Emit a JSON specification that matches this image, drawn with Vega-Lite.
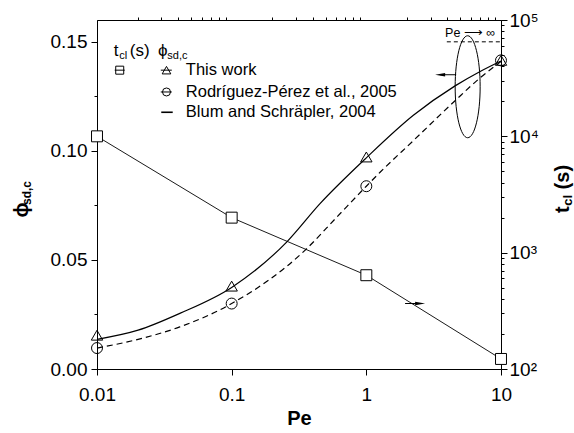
{
  "$schema": "https://vega.github.io/schema/vega-lite/v6.json",
  "width": 404,
  "height": 349,
  "autosize": {"type": "none"},
  "padding": {"left": 97, "top": 20, "right": 73, "bottom": 64},
  "background": "white",
  "config": {
    "font": "Liberation Sans",
    "view": {"stroke": "black", "strokeWidth": 1},
    "axis": {
      "domainColor": "black", "domainWidth": 1, "tickColor": "black", "tickWidth": 1,
      "labelColor": "black", "titleColor": "black", "labelFontSize": 19,
      "labelFont": "Liberation Sans", "grid": false, "labelFlush": false,
      "labelOverlap": false, "labelBound": false
    }
  },
  "datasets": {
    "solid": [
      {"Pe": 0.01, "phi": 0.0136}, {"Pe": 0.0202, "phi": 0.0178}, {"Pe": 0.0412, "phi": 0.0255},
      {"Pe": 0.1, "phi": 0.0374}, {"Pe": 0.256, "phi": 0.0582}, {"Pe": 0.453, "phi": 0.0758},
      {"Pe": 1, "phi": 0.0968}, {"Pe": 2.235, "phi": 0.1163},
      {"Pe": 4.56, "phi": 0.1298}, {"Pe": 7.0, "phi": 0.1364}, {"Pe": 10, "phi": 0.1412}
    ],
    "dashed": [
      {"Pe": 0.01, "phi": 0.0096}, {"Pe": 0.0202, "phi": 0.0136}, {"Pe": 0.0412, "phi": 0.0193},
      {"Pe": 0.1, "phi": 0.03}, {"Pe": 0.35, "phi": 0.0544}, {"Pe": 0.603, "phi": 0.0696},
      {"Pe": 1, "phi": 0.0838}, {"Pe": 1.265, "phi": 0.0902}, {"Pe": 2.235, "phi": 0.1047},
      {"Pe": 4.56, "phi": 0.123}, {"Pe": 7.0, "phi": 0.1335}, {"Pe": 10, "phi": 0.141}
    ],
    "thiswork": [
      {"Pe": 0.01, "phi": 0.0155}, {"Pe": 0.1, "phi": 0.038}, {"Pe": 1, "phi": 0.0972}, {"Pe": 10, "phi": 0.1415}
    ],
    "rodriguez": [
      {"Pe": 0.01, "phi": 0.0096}, {"Pe": 0.1, "phi": 0.03}, {"Pe": 1, "phi": 0.0838}, {"Pe": 10, "phi": 0.1415}
    ],
    "tcl": [
      {"Pe": 0.01, "t": 10000}, {"Pe": 0.1, "t": 2000}, {"Pe": 1, "t": 640}, {"Pe": 10, "t": 122}
    ],
    "inf_line": [{"Pe1": 3.96, "Pe2": 10, "phi": 0.15}],
    "inf_text": [{"Pe": 3.846, "phi": 0.1539, "label": "Pe ⟶ ∞"}],
    "ellipse": [{"Pe": 5.655, "phi": 0.1294}],
    "left_arrow_shaft": [{"Pe1": 3.53, "Pe2": 4.645, "phi": 0.1349}],
    "left_arrow_head": [{"Pe": 3.53, "phi": 0.1349}],
    "right_arrow_shaft": [{"Pe1": 1.94, "Pe2": 2.508, "t": 365.6}],
    "right_arrow_head": [{"Pe": 2.508, "t": 365.6}],
    "legend_lines": [
      {"Pe1": 0.01354, "Pe2": 0.01607, "phi": 0.137},
      {"Pe1": 0.02976, "Pe2": 0.03593, "phi": 0.137},
      {"Pe1": 0.02976, "Pe2": 0.03593, "phi": 0.127}
    ],
    "legend_blum": [{"Pe1": 0.0300, "Pe2": 0.0365, "phi": 0.1177}],
    "legend_square": [{"Pe": 0.01475, "phi": 0.137}],
    "legend_triangle": [{"Pe": 0.03281, "phi": 0.137}],
    "legend_circle": [{"Pe": 0.03281, "phi": 0.127}],
    "legend_text": [
      {"Pe": 0.04565, "phi": 0.137, "label": "This work"},
      {"Pe": 0.04565, "phi": 0.127, "label": "Rodríguez-Pérez et al., 2005"},
      {"Pe": 0.04565, "phi": 0.1177, "label": "Blum and Schräpler, 2004"}
    ],
    "header_main": [
      {"Pe": 0.0133, "phi": 0.14358, "label": "t"},
      {"Pe": 0.0175, "phi": 0.14358, "label": "(s)"},
      {"Pe": 0.02841, "phi": 0.14358, "label": "ϕ"}
    ],
    "header_sub": [
      {"Pe": 0.01462, "phi": 0.1422, "label": "cl"},
      {"Pe": 0.0333, "phi": 0.1422, "label": "sd,c"}
    ],
    "ytitle_main": [{"Pe": 0.003079, "phi": 0.0695, "label": "ϕ"}],
    "ytitle_sub": [{"Pe": 0.003214, "phi": 0.0752, "label": "sd,c"}],
    "rtitle_main": [
      {"Pe": 32.2, "t": 2193, "label": "t"},
      {"Pe": 32.2, "t": 3499, "label": "(s)"}
    ],
    "rtitle_sub": [{"Pe": 33.6, "t": 2529, "label": "cl"}]
  },
  "layer": [
    {
      "resolve": {"axis": {"x": "independent", "y": "independent"}},
      "layer": [
        {
          "data": {"name": "solid"},
          "mark": {"type": "line", "interpolate": "monotone", "color": "black", "strokeWidth": 1.2},
          "encoding": {
            "x": {
              "field": "Pe", "type": "quantitative",
              "scale": {"type": "log", "domain": [0.01, 10], "nice": false},
              "axis": {
                "title": "Pe", "titleFontSize": 20, "titleFontWeight": "bold", "titlePadding": 4,
                "labelPadding": 10, "tickSize": 6, "values": [0.01, 0.1, 1, 10], "format": "~g"
              }
            },
            "y": {
              "field": "phi", "type": "quantitative",
              "scale": {"domain": [0, 0.16], "nice": false},
              "axis": {
                "title": null, "orient": "left", "labelPadding": 4, "tickSize": 6,
                "values": [0, 0.05, 0.1, 0.15], "format": ".2f"
              }
            }
          }
        },
        {
          "data": {"name": "dashed"},
          "mark": {"type": "line", "interpolate": "monotone", "color": "black", "strokeWidth": 1.2, "strokeDash": [6, 4]},
          "encoding": {
            "x": {
              "field": "Pe", "type": "quantitative", "scale": {"type": "log", "domain": [0.01, 10], "nice": false},
              "axis": {
                "title": null, "labels": false, "domain": false, "tickSize": 3,
                "values": [0.02, 0.03, 0.04, 0.05, 0.06, 0.07, 0.08, 0.09, 0.2, 0.3, 0.4, 0.5, 0.6, 0.7, 0.8, 0.9, 2, 3, 4, 5, 6, 7, 8, 9]
              }
            },
            "y": {
              "field": "phi", "type": "quantitative", "scale": {"domain": [0, 0.16], "nice": false},
              "axis": {
                "title": null, "orient": "left", "labels": false, "domain": false, "tickSize": 3,
                "values": [0.025, 0.075, 0.125]
              }
            }
          }
        },
        {
          "data": {"name": "thiswork"},
          "mark": {"type": "point", "shape": "triangle-up", "filled": false, "stroke": "black", "strokeWidth": 1, "size": 130, "opacity": 1},
          "encoding": {
            "x": {"field": "Pe", "type": "quantitative", "scale": {"type": "log", "domain": [0.01, 10], "nice": false}, "axis": null},
            "y": {"field": "phi", "type": "quantitative", "scale": {"domain": [0, 0.16], "nice": false}, "axis": null}
          }
        },
        {
          "data": {"name": "rodriguez"},
          "mark": {"type": "point", "shape": "circle", "filled": false, "stroke": "black", "strokeWidth": 1, "size": 120, "opacity": 1},
          "encoding": {
            "x": {"field": "Pe", "type": "quantitative", "scale": {"type": "log", "domain": [0.01, 10], "nice": false}, "axis": null},
            "y": {"field": "phi", "type": "quantitative", "scale": {"domain": [0, 0.16], "nice": false}, "axis": null}
          }
        },
        {
          "data": {"name": "inf_line"},
          "mark": {"type": "rule", "color": "black", "strokeWidth": 1, "strokeDash": [4, 3]},
          "encoding": {
            "x": {"field": "Pe1", "type": "quantitative", "scale": {"type": "log", "domain": [0.01, 10], "nice": false}, "axis": null},
            "x2": {"field": "Pe2"},
            "y": {"field": "phi", "type": "quantitative", "scale": {"domain": [0, 0.16], "nice": false}, "axis": null}
          }
        },
        {
          "data": {"name": "inf_text"},
          "mark": {"type": "text", "align": "left", "baseline": "middle", "fontSize": 12.5, "color": "black"},
          "encoding": {
            "x": {"field": "Pe", "type": "quantitative", "scale": {"type": "log", "domain": [0.01, 10], "nice": false}, "axis": null},
            "y": {"field": "phi", "type": "quantitative", "scale": {"domain": [0, 0.16], "nice": false}, "axis": null},
            "text": {"field": "label"}
          }
        },
        {
          "data": {"name": "ellipse"},
          "mark": {"type": "point", "shape": "M 0 -1 C 0.1353 -1 0.245 -0.5523 0.245 0 C 0.245 0.5523 0.1353 1 0 1 C -0.1353 1 -0.245 0.5523 -0.245 0 C -0.245 -0.5523 -0.1353 -1 0 -1 Z", "filled": false, "stroke": "black", "strokeWidth": 1, "size": 10400, "opacity": 1},
          "encoding": {
            "x": {"field": "Pe", "type": "quantitative", "scale": {"type": "log", "domain": [0.01, 10], "nice": false}, "axis": null},
            "y": {"field": "phi", "type": "quantitative", "scale": {"domain": [0, 0.16], "nice": false}, "axis": null}
          }
        },
        {
          "data": {"name": "left_arrow_shaft"},
          "mark": {"type": "rule", "color": "black", "strokeWidth": 1},
          "encoding": {
            "x": {"field": "Pe1", "type": "quantitative", "scale": {"type": "log", "domain": [0.01, 10], "nice": false}, "axis": null},
            "x2": {"field": "Pe2"},
            "y": {"field": "phi", "type": "quantitative", "scale": {"domain": [0, 0.16], "nice": false}, "axis": null}
          }
        },
        {
          "data": {"name": "left_arrow_head"},
          "mark": {"type": "point", "shape": "M -1 0 L 1 -0.35 L 1 0.35 Z", "filled": true, "color": "black", "size": 100, "opacity": 1},
          "encoding": {
            "x": {"field": "Pe", "type": "quantitative", "scale": {"type": "log", "domain": [0.01, 10], "nice": false}, "axis": null},
            "y": {"field": "phi", "type": "quantitative", "scale": {"domain": [0, 0.16], "nice": false}, "axis": null}
          }
        },
        {
          "data": {"name": "legend_lines"},
          "mark": {"type": "rule", "color": "black", "strokeWidth": 1},
          "encoding": {
            "x": {"field": "Pe1", "type": "quantitative", "scale": {"type": "log", "domain": [0.01, 10], "nice": false}, "axis": null},
            "x2": {"field": "Pe2"},
            "y": {"field": "phi", "type": "quantitative", "scale": {"domain": [0, 0.16], "nice": false}, "axis": null}
          }
        },
        {
          "data": {"name": "legend_blum"},
          "mark": {"type": "rule", "color": "black", "strokeWidth": 1.6},
          "encoding": {
            "x": {"field": "Pe1", "type": "quantitative", "scale": {"type": "log", "domain": [0.01, 10], "nice": false}, "axis": null},
            "x2": {"field": "Pe2"},
            "y": {"field": "phi", "type": "quantitative", "scale": {"domain": [0, 0.16], "nice": false}, "axis": null}
          }
        },
        {
          "data": {"name": "legend_square"},
          "mark": {"type": "point", "shape": "square", "filled": false, "stroke": "black", "strokeWidth": 1, "size": 64, "opacity": 1},
          "encoding": {
            "x": {"field": "Pe", "type": "quantitative", "scale": {"type": "log", "domain": [0.01, 10], "nice": false}, "axis": null},
            "y": {"field": "phi", "type": "quantitative", "scale": {"domain": [0, 0.16], "nice": false}, "axis": null}
          }
        },
        {
          "data": {"name": "legend_triangle"},
          "mark": {"type": "point", "shape": "triangle-up", "filled": false, "stroke": "black", "strokeWidth": 1, "size": 75, "opacity": 1},
          "encoding": {
            "x": {"field": "Pe", "type": "quantitative", "scale": {"type": "log", "domain": [0.01, 10], "nice": false}, "axis": null},
            "y": {"field": "phi", "type": "quantitative", "scale": {"domain": [0, 0.16], "nice": false}, "axis": null}
          }
        },
        {
          "data": {"name": "legend_circle"},
          "mark": {"type": "point", "shape": "circle", "filled": false, "stroke": "black", "strokeWidth": 1, "size": 64, "opacity": 1},
          "encoding": {
            "x": {"field": "Pe", "type": "quantitative", "scale": {"type": "log", "domain": [0.01, 10], "nice": false}, "axis": null},
            "y": {"field": "phi", "type": "quantitative", "scale": {"domain": [0, 0.16], "nice": false}, "axis": null}
          }
        },
        {
          "data": {"name": "legend_text"},
          "mark": {"type": "text", "align": "left", "baseline": "middle", "fontSize": 16.5, "color": "black"},
          "encoding": {
            "x": {"field": "Pe", "type": "quantitative", "scale": {"type": "log", "domain": [0.01, 10], "nice": false}, "axis": null},
            "y": {"field": "phi", "type": "quantitative", "scale": {"domain": [0, 0.16], "nice": false}, "axis": null},
            "text": {"field": "label"}
          }
        },
        {
          "data": {"name": "header_main"},
          "mark": {"type": "text", "align": "left", "baseline": "alphabetic", "fontSize": 17, "color": "black"},
          "encoding": {
            "x": {"field": "Pe", "type": "quantitative", "scale": {"type": "log", "domain": [0.01, 10], "nice": false}, "axis": null},
            "y": {"field": "phi", "type": "quantitative", "scale": {"domain": [0, 0.16], "nice": false}, "axis": null},
            "text": {"field": "label"}
          }
        },
        {
          "data": {"name": "header_sub"},
          "mark": {"type": "text", "align": "left", "baseline": "alphabetic", "fontSize": 11, "color": "black"},
          "encoding": {
            "x": {"field": "Pe", "type": "quantitative", "scale": {"type": "log", "domain": [0.01, 10], "nice": false}, "axis": null},
            "y": {"field": "phi", "type": "quantitative", "scale": {"domain": [0, 0.16], "nice": false}, "axis": null},
            "text": {"field": "label"}
          }
        },
        {
          "data": {"name": "ytitle_main"},
          "mark": {"type": "text", "align": "left", "baseline": "alphabetic", "angle": 270, "fontSize": 20, "fontWeight": "bold", "color": "black"},
          "encoding": {
            "x": {"field": "Pe", "type": "quantitative", "scale": {"type": "log", "domain": [0.01, 10], "nice": false}, "axis": null},
            "y": {"field": "phi", "type": "quantitative", "scale": {"domain": [0, 0.16], "nice": false}, "axis": null},
            "text": {"field": "label"}
          }
        },
        {
          "data": {"name": "ytitle_sub"},
          "mark": {"type": "text", "align": "left", "baseline": "alphabetic", "angle": 270, "fontSize": 12, "fontWeight": "bold", "color": "black"},
          "encoding": {
            "x": {"field": "Pe", "type": "quantitative", "scale": {"type": "log", "domain": [0.01, 10], "nice": false}, "axis": null},
            "y": {"field": "phi", "type": "quantitative", "scale": {"domain": [0, 0.16], "nice": false}, "axis": null},
            "text": {"field": "label"}
          }
        }
      ]
    },
    {
      "resolve": {"axis": {"x": "independent", "y": "independent"}},
      "layer": [
        {
          "data": {"name": "tcl"},
          "mark": {"type": "line", "color": "black", "strokeWidth": 0.9},
          "encoding": {
            "x": {"field": "Pe", "type": "quantitative", "scale": {"type": "log", "domain": [0.01, 10], "nice": false}, "axis": null},
            "y": {
              "field": "t", "type": "quantitative",
              "scale": {"type": "log", "domain": [100, 100000], "nice": false},
              "axis": {
                "title": null, "orient": "right", "labelPadding": 2, "tickSize": 6,
                "values": [100, 1000, 10000, 100000],
                "labelExpr": "datum.value < 500 ? '10²' : datum.value < 5000 ? '10³' : datum.value < 50000 ? '10⁴' : '10⁵'"
              }
            }
          }
        },
        {
          "data": {"name": "tcl"},
          "mark": {"type": "point", "shape": "square", "filled": true, "fill": "white", "stroke": "black", "strokeWidth": 1, "size": 120, "opacity": 1},
          "encoding": {
            "x": {"field": "Pe", "type": "quantitative", "scale": {"type": "log", "domain": [0.01, 10], "nice": false}, "axis": null},
            "y": {
              "field": "t", "type": "quantitative", "scale": {"type": "log", "domain": [100, 100000], "nice": false},
              "axis": {
                "title": null, "orient": "right", "labels": false, "domain": false, "tickSize": 3,
                "values": [200, 300, 400, 500, 600, 700, 800, 900, 2000, 3000, 4000, 5000, 6000, 7000, 8000, 9000, 20000, 30000, 40000, 50000, 60000, 70000, 80000, 90000]
              }
            }
          }
        },
        {
          "data": {"name": "right_arrow_shaft"},
          "mark": {"type": "rule", "color": "black", "strokeWidth": 1},
          "encoding": {
            "x": {"field": "Pe1", "type": "quantitative", "scale": {"type": "log", "domain": [0.01, 10], "nice": false}, "axis": null},
            "x2": {"field": "Pe2"},
            "y": {"field": "t", "type": "quantitative", "scale": {"type": "log", "domain": [100, 100000], "nice": false}, "axis": null}
          }
        },
        {
          "data": {"name": "right_arrow_head"},
          "mark": {"type": "point", "shape": "M 1 0 L -1 -0.35 L -1 0.35 Z", "filled": true, "color": "black", "size": 100, "opacity": 1},
          "encoding": {
            "x": {"field": "Pe", "type": "quantitative", "scale": {"type": "log", "domain": [0.01, 10], "nice": false}, "axis": null},
            "y": {"field": "t", "type": "quantitative", "scale": {"type": "log", "domain": [100, 100000], "nice": false}, "axis": null}
          }
        },
        {
          "data": {"name": "rtitle_main"},
          "mark": {"type": "text", "align": "left", "baseline": "alphabetic", "angle": 270, "fontSize": 20, "fontWeight": "bold", "color": "black"},
          "encoding": {
            "x": {"field": "Pe", "type": "quantitative", "scale": {"type": "log", "domain": [0.01, 10], "nice": false}, "axis": null},
            "y": {"field": "t", "type": "quantitative", "scale": {"type": "log", "domain": [100, 100000], "nice": false}, "axis": null},
            "text": {"field": "label"}
          }
        },
        {
          "data": {"name": "rtitle_sub"},
          "mark": {"type": "text", "align": "left", "baseline": "alphabetic", "angle": 270, "fontSize": 13, "fontWeight": "bold", "color": "black"},
          "encoding": {
            "x": {"field": "Pe", "type": "quantitative", "scale": {"type": "log", "domain": [0.01, 10], "nice": false}, "axis": null},
            "y": {"field": "t", "type": "quantitative", "scale": {"type": "log", "domain": [100, 100000], "nice": false}, "axis": null},
            "text": {"field": "label"}
          }
        }
      ]
    }
  ],
  "resolve": {"scale": {"y": "independent"}, "axis": {"y": "independent"}}
}
